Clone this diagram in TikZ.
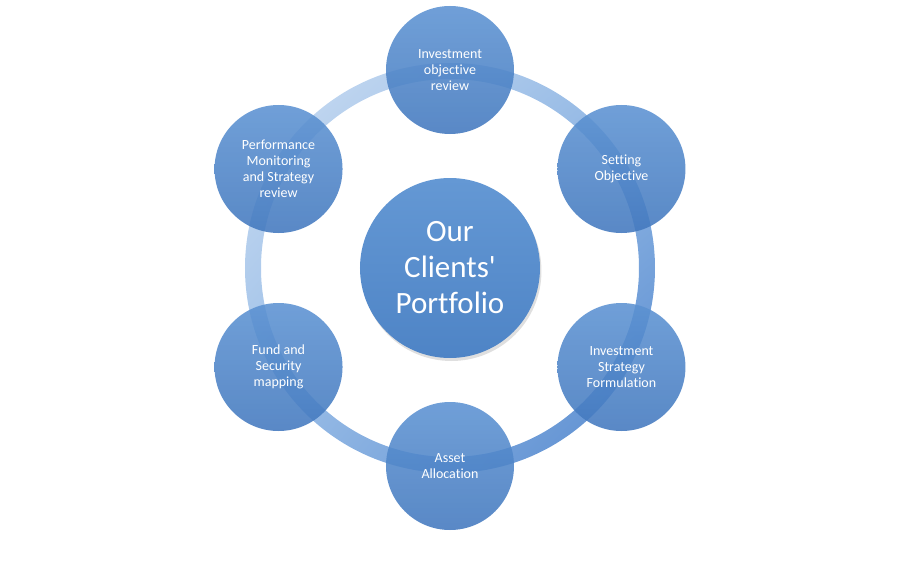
\documentclass[tikz,border=0pt]{standalone}
\usepackage{fontspec}
\setmainfont{Carlito}[Ligatures={NoCommon}]
\usepackage{xcolor}
\usepackage{tikz}
\usetikzlibrary{positioning, shadows, shadings}

\definecolor{ringlight}{RGB}{206,223,243}
\definecolor{ringmid}{RGB}{150,187,230}
\definecolor{ringdark}{RGB}{84,136,206}
\definecolor{stagelight}{RGB}{92,146,210}
\definecolor{stagedark}{RGB}{66,120,190}
\definecolor{hublight}{RGB}{100,152,212}
\definecolor{hubdark}{RGB}{78,132,198}

\begin{document}
\begin{tikzpicture}[x=1pt, y=1pt, font=\fontsize{14}{16}\selectfont,
  stage/.style={circle, minimum size=128pt, inner sep=0pt, align=center, text=white,
    top color=stagelight, bottom color=stagedark, fill opacity=0.88, text opacity=1},
  hub/.style={circle, minimum size=180pt, inner sep=0pt, align=center, text=white,
    top color=hublight, bottom color=hubdark, font=\fontsize{31}{36}\selectfont,
    drop shadow={shadow xshift=1.5pt, shadow yshift=-3pt, opacity=0.25}}]
\useasboundingbox (-450,-292) rectangle (450,268);
% the cycle ring
\shade[even odd rule, upper left=ringlight, lower right=ringdark, upper right=ringmid, lower left=ringmid]
  (0,0) circle (205) (0,0) circle (189);
\node[hub] (portfolio) at (0,0) {Our\\Clients\textquotesingle\\Portfolio};
\node[stage] (review) at (90:198) {Investment\\objective\\review};
\node[stage] (setting) at (30:198) {Setting\\Objective};
\node[stage] (strategy) at (-30:198) {Investment\\Strategy\\Formulation};
\node[stage] (allocation) at (-90:198) {Asset\\Allocation};
\node[stage] (mapping) at (-150:198) {Fund and\\Security\\mapping};
\node[stage] (monitoring) at (150:198) {Performance\\Monitoring\\and Strategy\\review};
\end{tikzpicture}
\end{document}
